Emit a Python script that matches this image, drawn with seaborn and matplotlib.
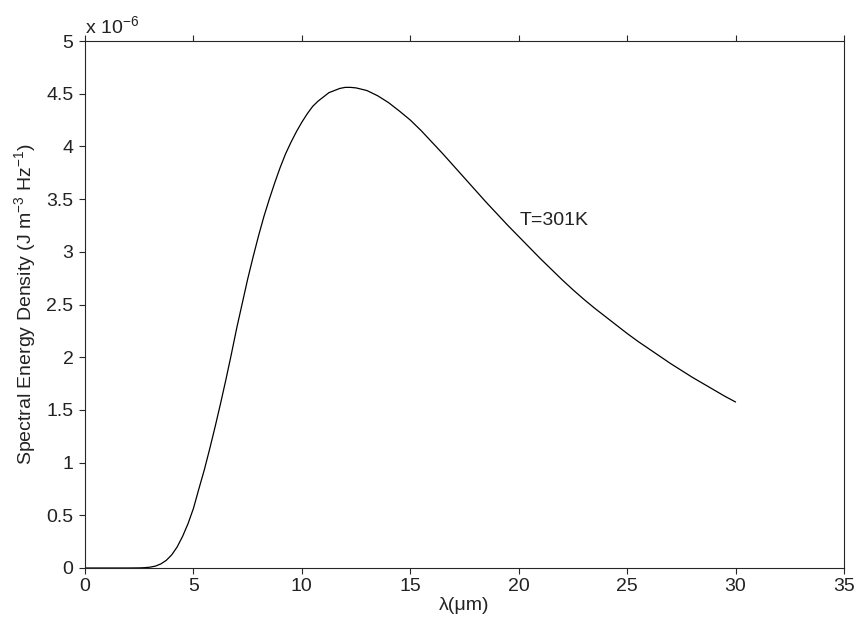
import matplotlib
matplotlib.use("Agg")
import matplotlib.pyplot as plt
import seaborn as sns
import pandas as pd

# Values (y in units of 1e-6 J m^-3 Hz^-1)
wavelength_um = [0, 1, 2, 2.5, 2.75, 3.0, 3.25, 3.5, 3.75, 4.0, 4.25, 4.5, 4.75,
                 5.0, 5.25, 5.5, 5.75, 6.0, 6.25, 6.5, 6.75, 7.0, 7.25, 7.5, 7.75,
                 8.0, 8.25, 8.5, 8.75, 9.0, 9.25, 9.5, 9.75, 10.0, 10.25, 10.5,
                 10.75, 11.0, 11.25, 11.5, 11.75, 12.0, 12.25, 12.5, 13.0, 13.5,
                 14.0, 14.5, 15.0, 15.5, 16.0, 16.5, 17.0, 17.5, 18.0, 18.5, 19.0,
                 19.5, 20.0, 20.5, 21.0, 21.5, 22.0, 22.5, 23.0, 23.5, 24.0, 24.5,
                 25.0, 25.5, 26.0, 26.5, 27.0, 27.5, 28.0, 28.5, 29.0, 29.5, 30.0]
energy_density_e6 = [0, 0, 0, 0.001, 0.003, 0.008, 0.018, 0.039, 0.073, 0.125, 0.20,
                     0.30, 0.42, 0.565, 0.75, 0.93, 1.13, 1.34, 1.56, 1.79, 2.03,
                     2.28, 2.51, 2.74, 2.95, 3.15, 3.335, 3.50, 3.655, 3.80, 3.93,
                     4.04, 4.14, 4.23, 4.31, 4.38, 4.43, 4.47, 4.51, 4.53, 4.55,
                     4.56, 4.56, 4.555, 4.53, 4.48, 4.415, 4.335, 4.25, 4.15, 4.04,
                     3.93, 3.815, 3.70, 3.585, 3.47, 3.36, 3.25, 3.145, 3.04, 2.935,
                     2.835, 2.735, 2.64, 2.55, 2.465, 2.385, 2.305, 2.225, 2.15, 2.08,
                     2.01, 1.94, 1.875, 1.81, 1.75, 1.69, 1.63, 1.575]
x_ticks = [0, 5, 10, 15, 20, 25, 30, 35]
y_ticks = [0, 0.5, 1, 1.5, 2, 2.5, 3, 3.5, 4, 4.5, 5]
y_tick_labels = ["0", "0.5", "1", "1.5", "2", "2.5", "3", "3.5", "4", "4.5", "5"]
annotation = "T=301K"

df = pd.DataFrame({"lam": wavelength_um, "u": energy_density_e6})

sns.set_style("white")
plt.rcParams["font.family"] = ["Liberation Sans", "DejaVu Sans"]
plt.rcParams["mathtext.fontset"] = "custom"
plt.rcParams["mathtext.rm"] = "Liberation Sans"
plt.rcParams["mathtext.it"] = "Liberation Sans:italic"
plt.rcParams["axes.unicode_minus"] = True

txt = "#222222"
fs = 14
fig = plt.figure(figsize=(8.56, 6.25), dpi=100)
ax = fig.add_axes([85/856, (625-568)/625, (844-85)/856, (568-41)/625])

sns.lineplot(data=df, x="lam", y="u", ax=ax, color="black", linewidth=0.9)

ax.set_xlim(0, 35)
ax.set_ylim(0, 5)
ax.set_xticks(x_ticks)
ax.set_xticklabels([str(t) for t in x_ticks])
ax.set_yticks(y_ticks)
ax.set_yticklabels(y_tick_labels)

for s in ax.spines.values():
    s.set_visible(True)
    s.set_color("#262626")
    s.set_linewidth(0.8)

ax.tick_params(axis="both", direction="out", length=4.3, width=0.8, color="#262626",
               labelsize=fs, labelcolor=txt)
ax.tick_params(axis="x", top=True, bottom=True, pad=3)
ax.tick_params(axis="y", left=True, right=False, pad=4)

ax.set_xlabel("λ(μm)", fontsize=fs, color=txt, labelpad=1)
ax.set_ylabel(r"Spectral Energy Density (J m$^{-3}$ Hz$^{-1}$)", fontsize=fs,
              color=txt, labelpad=6)

ax.text(0.0, 1.015, r"x 10$^{-6}$", transform=ax.transAxes, fontsize=fs,
        color=txt, ha="left", va="baseline")
ax.text(20.05, 3.30, annotation, fontsize=fs, color=txt, ha="left", va="center")

fig.savefig("out.png", dpi=100)
